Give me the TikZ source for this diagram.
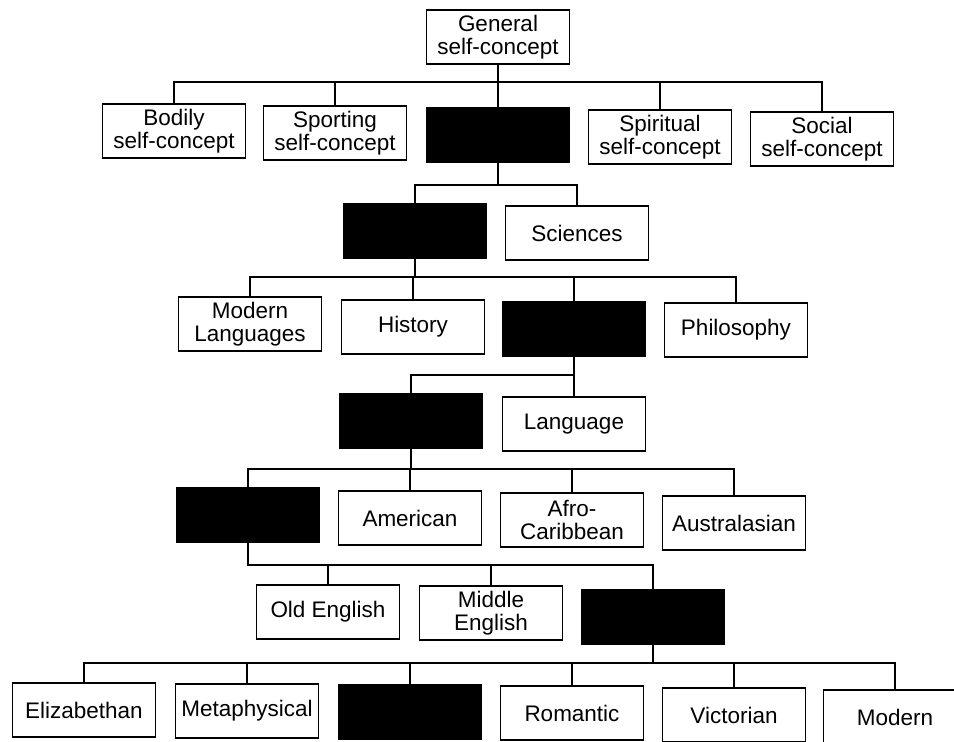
\documentclass[tikz,border=0pt]{standalone}
\usepackage{fontspec}
\setmainfont{Liberation Sans}

\begin{document}
\begin{tikzpicture}[x=0.02cm,y=-0.02cm,
    box/.style={draw, line width=1pt, minimum width=2.86cm, minimum height=1.08cm,
      inner sep=1pt, align=center, font=\fontsize{12.8}{12.8}\selectfont},
    hidden/.style={box, fill=black},
    link/.style={line width=1pt}]
    \useasboundingbox (0,0) rectangle (954,742);

    % draw levels of the buses
    \coordinate (bus1) at (0,82);
    \coordinate (bus2) at (0,185);
    \coordinate (bus3) at (0,277);
    \coordinate (bus4) at (0,375);
    \coordinate (bus5) at (0,469);
    \coordinate (bus6) at (0,565);
    \coordinate (bus7) at (0,663);

    % draw boxes
    \node[box] (gen) at (498,37) {General\\self-concept};

    \node[box] (bod) at (174,131) {Bodily\\self-concept};
    \node[box] (spo) at (335,133) {Sporting\\self-concept};
    \node[hidden] (aca) at (498,135) {};
    \node[box] (spi) at (660,137) {Spiritual\\self-concept};
    \node[box] (soc) at (822,139) {Social\\self-concept};

    \node[hidden] (arts) at (415,231) {};
    \node[box] (sci) at (577,233) {Sciences};

    \node[box] (mod) at (250,324) {Modern\\Languages};
    \node[box] (his) at (413,327) {History};
    \node[hidden] (eng) at (574,329) {};
    \node[box] (phi) at (736,330) {Philosophy};

    \node[hidden] (lit) at (411,421) {};
    \node[box] (lan) at (574,424) {Language};

    \node[hidden] (brit) at (248,515) {};
    \node[box] (ame) at (410,518) {American};
    \node[box] (afr) at (572,520) {Afro-\\Caribbean};
    \node[box] (aus) at (734,523) {Australasian};

    \node[box] (old) at (328,612) {Old English};
    \node[box] (mid) at (491,613) {Middle\\English};
    \node[hidden] (modeng) at (653,617) {};

    \node[box] (eli) at (84,710) {Elizabethan};
    \node[box] (met) at (247,711) {Metaphysical};
    \node[hidden] (aug) at (410,712) {};
    \node[box] (rom) at (572,713) {Romantic};
    \node[box] (vic) at (734,715) {Victorian};
    \node[box] (mdn) at (895,717) {Modern};

    % draw connectors
    \foreach \c in {bod,spo,aca,spi,soc}
    \draw[link] (gen.south) -- (gen.south |- bus1) -| (\c.north);
    \foreach \c in {arts,sci}
    \draw[link] (aca.south) -- (aca.south |- bus2) -| (\c.north);
    \foreach \c in {mod,his,eng,phi}
    \draw[link] (arts.south) -- (arts.south |- bus3) -| (\c.north);
    \foreach \c in {lit,lan}
    \draw[link] (eng.south) -- (eng.south |- bus4) -| (\c.north);
    \foreach \c in {brit,ame,afr,aus}
    \draw[link] (lit.south) -- (lit.south |- bus5) -| (\c.north);
    \foreach \c in {old,mid,modeng}
    \draw[link] (brit.south) -- (brit.south |- bus6) -| (\c.north);
    \foreach \c in {eli,met,aug,rom,vic,mdn}
    \draw[link] (modeng.south) -- (modeng.south |- bus7) -| (\c.north);
\end{tikzpicture}
\end{document}
